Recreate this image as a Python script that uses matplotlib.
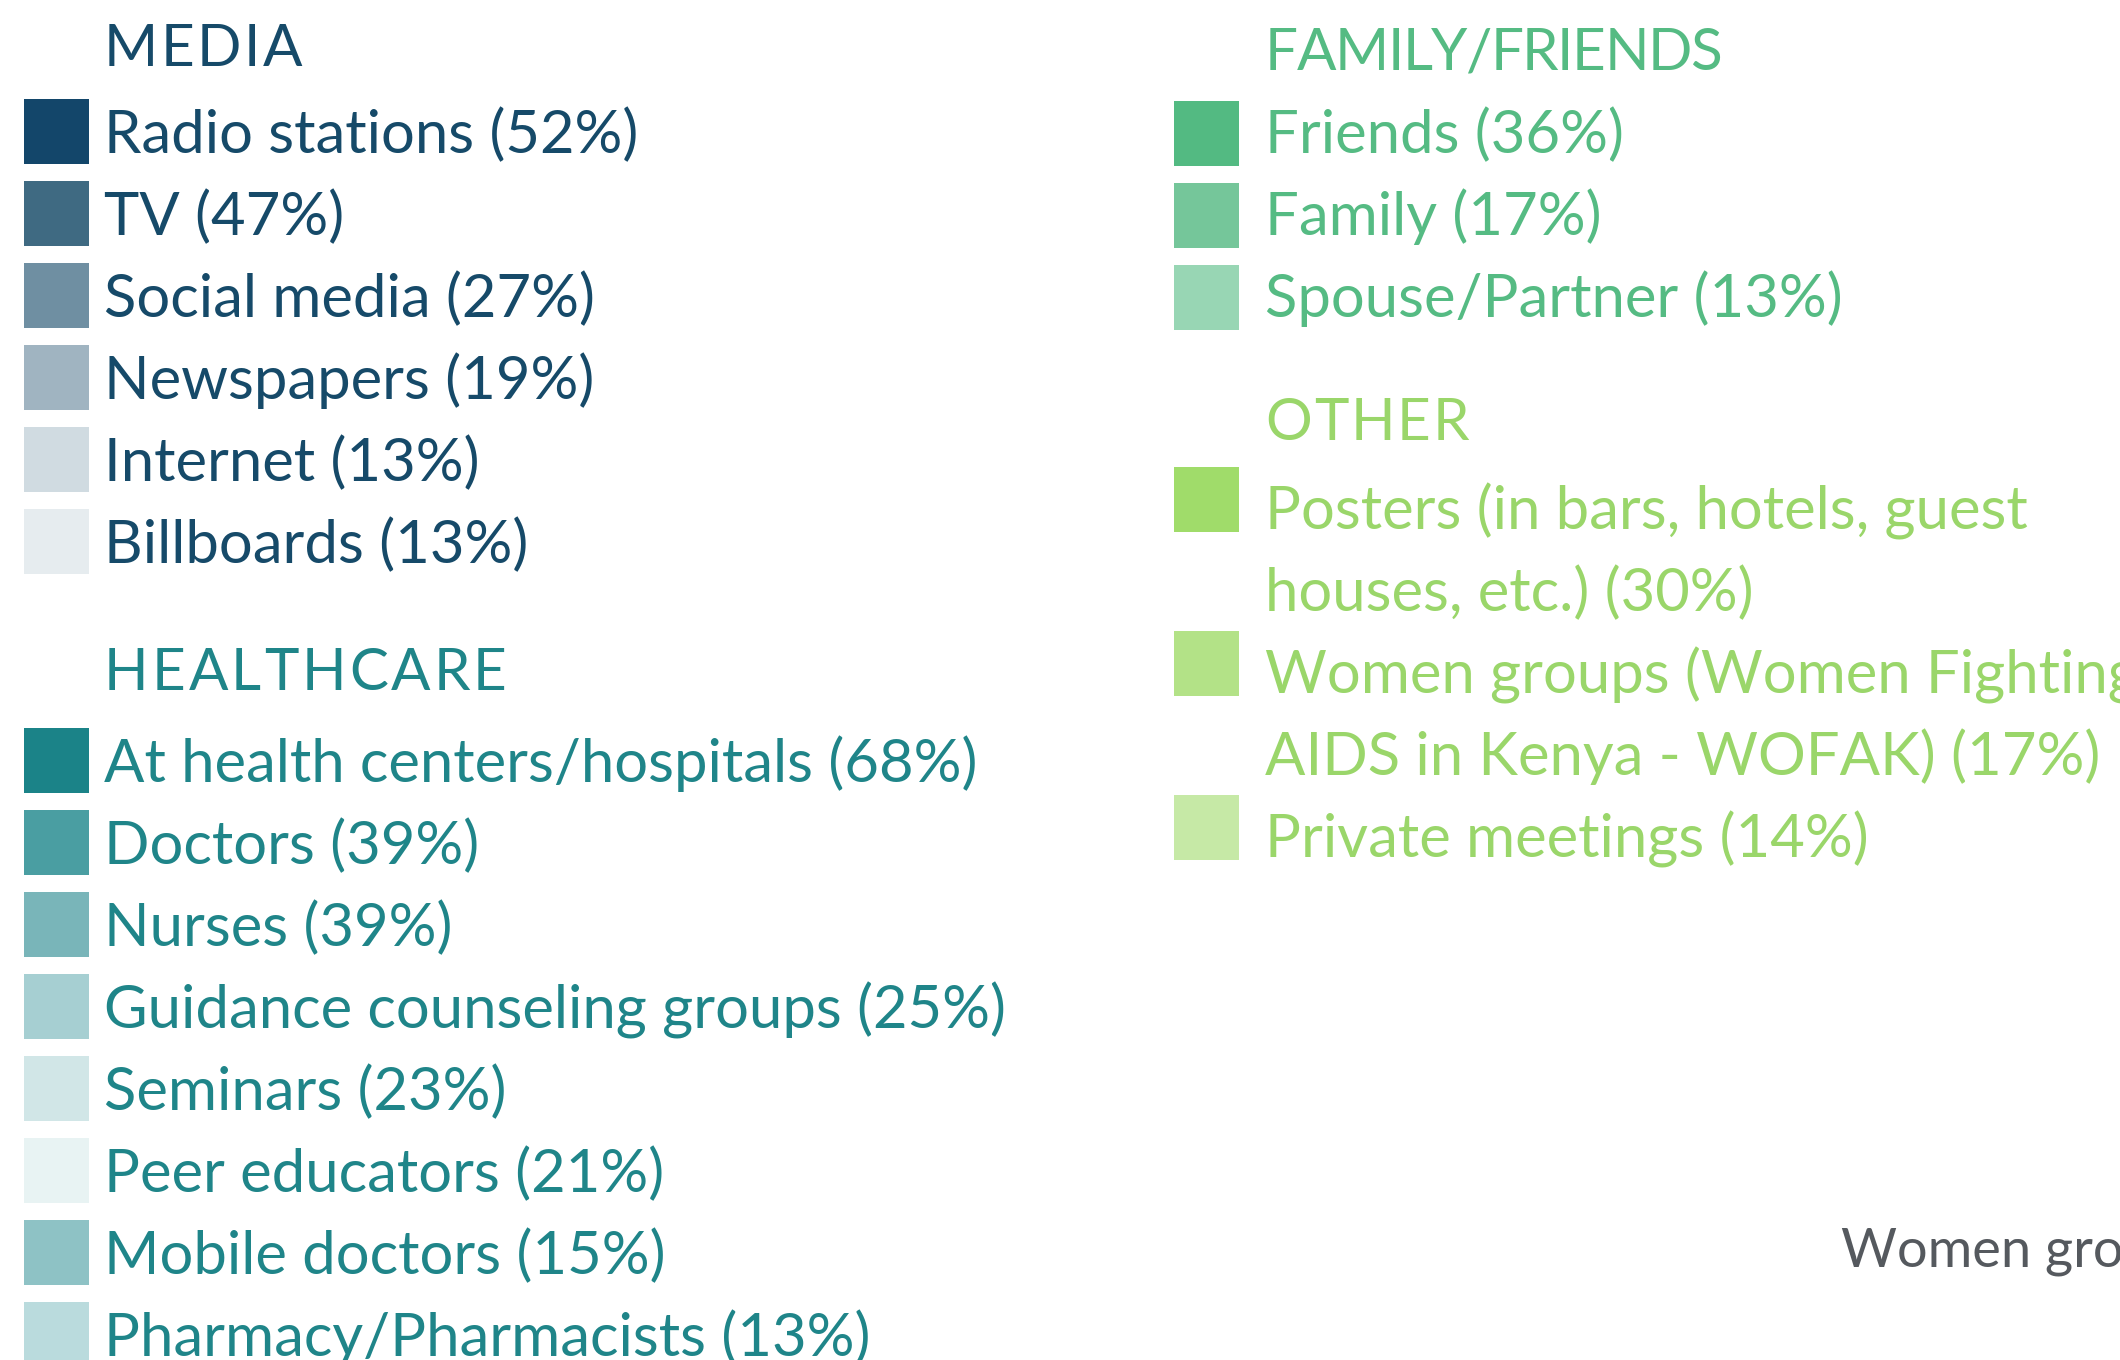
import matplotlib
matplotlib.use("Agg")
import matplotlib.pyplot as plt
from matplotlib.patches import Rectangle

plt.rcParams['font.family'] = ['Lato', 'DejaVu Sans']

# data
media_labels = ["Radio stations", "TV", "Social media", "Newspapers", "Internet", "Billboards"]
media_pct = [52, 47, 27, 19, 13, 13]
media_colors = ["#13466a", "#3f6a82", "#6f8fa2", "#a0b4c1", "#d0dbe1", "#e6ecef"]

health_labels = ["At health centers/hospitals", "Doctors", "Nurses", "Guidance counseling groups",
                 "Seminars", "Peer educators", "Mobile doctors", "Pharmacy/Pharmacists"]
health_pct = [68, 39, 39, 25, 23, 21, 15, 13]
health_colors = ["#1b8388", "#4a9ea2", "#79b5b9", "#a6cfd2", "#d1e6e7", "#e8f3f3", "#8ec2c5", "#badbdd"]

family_labels = ["Friends", "Family", "Spouse/Partner"]
family_pct = [36, 17, 13]
family_colors = ["#53ba82", "#75c69a", "#98d6b4"]

other_labels = ["Posters (in bars, hotels, guest\nhouses, etc.)",
                "Women groups (Women Fighting\nAIDS in Kenya - WOFAK)",
                "Private meetings"]
other_pct = [30, 17, 14]
other_colors = ["#a0dc6a", "#b3e287", "#c6e9a6"]

fig = plt.figure(figsize=(21.2, 13.6), dpi=100)
ax = fig.add_axes([0, 0, 1, 1])
ax.set_xlim(0, 2120)
ax.set_ylim(1360, 0)
ax.axis("off")
renderer = fig.canvas.get_renderer()

FS = 43
HFS = 42
ROW = 82


def spaced(x, y, s, color, track):
    # draw a letter-spaced heading char by char
    for ch in s:
        t = ax.text(x, y, ch, fontsize=HFS, color=color, va="center", ha="left")
        w = t.get_window_extent(renderer).width
        x += w + track


def group(x_sq, x_txt, y_title, y0, title, labels, pct, colors, tcolor, track, sq=65, sq_dy=0):
    spaced(x_txt, y_title, title, tcolor, track)
    y = y0
    for lab, p, c in zip(labels, pct, colors):
        lines = f"{lab} ({p}%)".split("\n")
        ax.add_patch(Rectangle((x_sq, y - sq / 2 + sq_dy), sq, sq, color=c, lw=0))
        for ln in lines:
            ax.text(x_txt, y + 4, ln, fontsize=FS, color=tcolor, va="center", ha="left")
            y += ROW


group(24, 104, 50, 131, "MEDIA", media_labels, media_pct, media_colors, "#164a69", 2.5)
group(24, 104, 673, 760, "HEALTHCARE", health_labels, health_pct, health_colors, "#1f8589", 3)
group(1174, 1265, 54, 131, "FAMILY/FRIENDS", family_labels, family_pct, family_colors, "#55bb83", -1.5, sq_dy=2)
group(1174, 1265, 423, 507, "OTHER", other_labels, other_pct, other_colors, "#9ad66a", 2, sq_dy=-8)

ax.text(1841, 1252, "Women groups", fontsize=39, color="#55595e", va="center", ha="left")

fig.savefig("out.png", dpi=100)
